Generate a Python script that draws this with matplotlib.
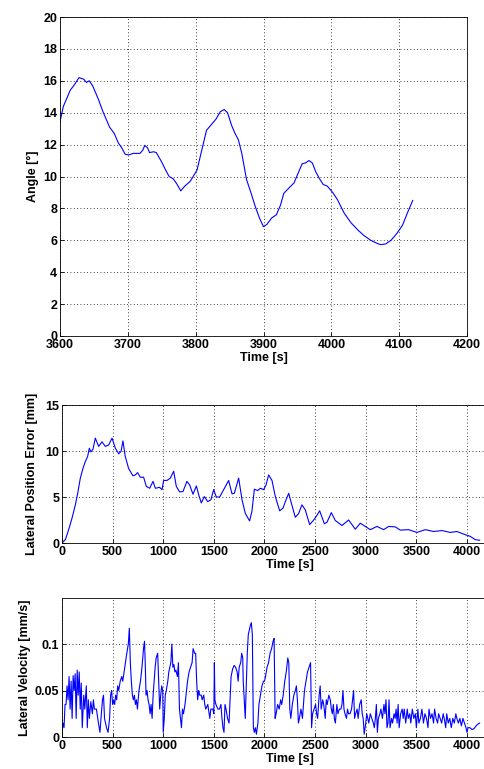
import matplotlib
matplotlib.use("Agg")
import matplotlib.pyplot as plt

plt.rcParams['font.family'] = ['Liberation Sans', 'DejaVu Sans']
plt.rcParams['font.size'] = 9
plt.rcParams['font.weight'] = 'bold'

# ---- Top: angle ----
angle_t = [3600, 3605, 3615, 3622, 3628, 3635, 3639, 3643, 3648, 3657, 3663, 3673, 3680, 3686,
           3691, 3696, 3701, 3708, 3718, 3722, 3725, 3729, 3732, 3738, 3742, 3750, 3757, 3761,
           3767, 3772, 3778, 3784, 3792, 3802, 3809, 3816, 3824, 3830, 3836, 3842, 3847, 3853,
           3858, 3863, 3868, 3875, 3881, 3888, 3894, 3900, 3905, 3912, 3919, 3925, 3930, 3938,
           3945, 3951, 3957, 3962, 3967, 3972, 3977, 3982, 3988, 3994, 4002, 4009, 4019, 4029,
           4039, 4048, 4058, 4068, 4073, 4080, 4088, 4097, 4105, 4112, 4120]
angle_v = [13.44, 14.4, 15.4, 15.8, 16.2, 16.1, 15.9, 16.0, 15.7, 14.8, 14.1, 13.1, 12.7, 12.1,
           11.8, 11.4, 11.35, 11.45, 11.45, 11.65, 11.95, 11.8, 11.5, 11.55, 11.5, 10.9, 10.3, 10.0,
           9.85, 9.55, 9.1, 9.4, 9.7, 10.4, 11.65, 12.9, 13.3, 13.6, 14.05, 14.2, 14.0, 13.2,
           12.7, 12.3, 11.45, 9.8, 9.05, 8.1, 7.4, 6.85, 7.0, 7.4, 7.6, 8.2, 8.95, 9.3,
           9.6, 10.2, 10.8, 10.85, 11.0, 10.85, 10.3, 9.9, 9.5, 9.4, 9.0, 8.55, 7.7, 7.1,
           6.65, 6.3, 6.0, 5.8, 5.73, 5.77, 6.0, 6.45, 6.95, 7.7, 8.5]

# ---- Middle: lateral position error ----
err_t = [0, 33, 66, 99, 132, 155, 181, 207, 230, 253, 270, 286, 306, 329, 362, 395, 428, 461,
         494, 527, 560, 583, 602, 625, 658, 701, 724, 747, 773, 806, 833, 866, 899, 922, 964,
         988, 1004, 1037, 1070, 1103, 1129, 1162, 1195, 1234, 1261, 1294, 1327, 1350, 1376,
         1406, 1439, 1471, 1498, 1524, 1557, 1597, 1646, 1679, 1702, 1745, 1778, 1811, 1853,
         1876, 1900, 1932, 1959, 1992, 2015, 2041, 2074, 2107, 2150, 2183, 2206, 2239, 2265,
         2304, 2337, 2370, 2403, 2446, 2486, 2512, 2545, 2591, 2617, 2660, 2699, 2765, 2831,
         2897, 2946, 2996, 3045, 3111, 3177, 3226, 3292, 3341, 3423, 3506, 3588, 3671, 3753,
         3835, 3901, 3983, 4033, 4082, 4125]
err_v = [0, 0.36, 1.45, 2.7, 4.15, 5.4, 7.05, 8.1, 8.85, 9.4, 10.3, 9.9, 10.2, 11.4, 10.5, 11.0,
         10.5, 10.65, 11.4, 10.3, 9.7, 9.95, 11.1, 9.4, 8.1, 7.3, 7.4, 7.65, 7.15, 7.15, 6.15,
         5.95, 6.7, 5.95, 6.05, 5.8, 6.8, 6.8, 7.05, 7.8, 6.15, 5.55, 5.6, 6.7, 6.3, 5.3, 6.2,
         5.25, 4.35, 5.05, 4.5, 4.7, 5.8, 5.0, 5.0, 5.8, 6.8, 5.35, 5.4, 7.05, 4.7, 3.2, 2.4,
         3.45, 5.85, 5.7, 5.95, 5.8, 6.3, 7.4, 6.8, 5.05, 3.5, 3.8, 4.5, 5.4, 4.35, 2.8, 3.2,
         4.15, 3.6, 2.0, 2.5, 2.9, 3.5, 2.1, 2.25, 3.3, 2.45, 1.9, 2.5, 1.5, 2.15, 1.8, 1.45,
         1.8, 1.45, 1.8, 1.75, 1.4, 1.45, 1.15, 1.45, 1.25, 1.35, 1.15, 1.25, 0.9, 0.72, 0.36, 0.3]

# ---- Bottom: lateral velocity ----
vel_t = [0, 10, 20, 30, 40, 50, 60, 70, 80, 90, 100, 110, 120, 130, 140, 150, 160, 170, 180, 190,
         200, 215, 225, 240, 250, 260, 270, 285, 300, 310, 320, 340, 360, 375, 385, 400, 410, 420,
         440, 455, 470, 480, 490,
         500, 510, 520, 530, 540, 550, 560, 575, 590, 600, 620, 640, 655, 665, 675, 685, 695, 705,
         715, 725, 735, 745, 760, 775, 790, 805, 815, 822, 830, 840, 850, 860, 870, 880, 890, 900,
         910, 920, 930, 945, 955, 965, 975, 985, 995,
         1000, 1010, 1020, 1030, 1045, 1055, 1065, 1075, 1085, 1095, 1105, 1115, 1125, 1140, 1150,
         1160, 1170, 1180, 1190, 1200, 1215, 1225, 1240, 1255, 1270, 1285, 1295, 1310, 1320, 1330,
         1340, 1350, 1360, 1375, 1385, 1400, 1410, 1420, 1440, 1460, 1470, 1490, 1500,
         1505, 1510, 1520, 1540, 1555, 1570, 1580, 1590, 1600, 1610, 1620, 1635, 1650, 1660, 1670,
         1685, 1700, 1715, 1730, 1740, 1750, 1765, 1775, 1785, 1790, 1800, 1810, 1820, 1830, 1840,
         1850, 1860, 1870, 1880, 1890, 1900, 1910, 1920, 1935, 1945, 1960, 1975, 1990,
         2000, 2010, 2025, 2040, 2055, 2070, 2085, 2095, 2105, 2115, 2130, 2145, 2160, 2170, 2185,
         2200, 2215, 2230, 2240, 2250, 2260, 2275, 2290, 2305, 2315, 2325, 2335, 2345, 2360, 2375,
         2385, 2395, 2410, 2425, 2440, 2455, 2465, 2475, 2490,
         2505, 2515, 2525, 2540, 2550, 2560, 2575, 2585, 2600, 2610, 2620, 2635, 2650, 2660, 2670,
         2680, 2690, 2700, 2715, 2725, 2740, 2755, 2765, 2775, 2785, 2795, 2810, 2820, 2830, 2845,
         2860, 2870, 2880, 2890, 2900, 2915, 2925, 2940, 2955, 2965, 2975, 2985,
         3000, 3010, 3020, 3030, 3045, 3060, 3075, 3085, 3095, 3105, 3115, 3125, 3140, 3150, 3165,
         3180, 3190, 3200, 3210, 3220, 3230, 3240, 3255, 3265, 3280, 3290, 3300, 3310, 3320, 3330,
         3345, 3360, 3370, 3380, 3395, 3410, 3420, 3435, 3445, 3460, 3475, 3490,
         3500, 3515, 3525, 3540, 3555, 3570, 3585, 3600, 3615, 3625, 3640, 3655, 3670, 3680, 3695,
         3710, 3720, 3735, 3750, 3765, 3775, 3790, 3800, 3815, 3830, 3845, 3860, 3875, 3890, 3900,
         3915, 3930, 3945, 3960, 3975, 3990, 4000, 4010, 4030, 4050, 4070, 4090, 4110, 4125]
vel_v = [0.005, 0.015, 0.01, 0.035, 0.035, 0.055, 0.04, 0.065, 0.03, 0.06, 0.02, 0.066, 0.05, 0.068,
         0.02, 0.072, 0.045, 0.07, 0.03, 0.058, 0.01, 0.045, 0.03, 0.055, 0.01, 0.04, 0.02, 0.038,
         0.025, 0.04, 0.03, 0.03, 0.015, 0.005, 0.02, 0.04, 0.045, 0.02, 0.01, 0.005, 0.02, 0.045,
         0.05,
         0.035, 0.04, 0.035, 0.045, 0.04, 0.055, 0.05, 0.06, 0.065, 0.06, 0.075, 0.09, 0.1, 0.117,
         0.08, 0.06, 0.045, 0.04, 0.045, 0.035, 0.04, 0.03, 0.05, 0.06, 0.075, 0.095, 0.103, 0.08,
         0.045, 0.05, 0.04, 0.035, 0.025, 0.035, 0.02, 0.045, 0.06, 0.075, 0.085, 0.09, 0.06, 0.03,
         0.045, 0.055, 0.05,
         0.005, 0.02, 0.045, 0.05, 0.06, 0.07, 0.075, 0.08, 0.1, 0.075, 0.078, 0.07, 0.072, 0.065,
         0.08, 0.03, 0.02, 0.01, 0.03, 0.025, 0.035, 0.045, 0.06, 0.07, 0.075, 0.08, 0.095, 0.09,
         0.09, 0.06, 0.04, 0.05, 0.045, 0.045, 0.04, 0.045, 0.035, 0.03, 0.035, 0.02, 0.03, 0.03,
         0.025,
         0.08, 0.04, 0.035, 0.03, 0.03, 0.035, 0.02, 0.01, 0.005, 0.035, 0.03, 0.02, 0.015, 0.04,
         0.065, 0.073, 0.077, 0.075, 0.07, 0.06, 0.075, 0.08, 0.09, 0.085, 0.06, 0.04, 0.02, 0.055,
         0.09, 0.11, 0.115, 0.12, 0.123, 0.11, 0.01, 0.005, 0.01, 0.003, 0.015, 0.035, 0.045, 0.055,
         0.06,
         0.06, 0.065, 0.075, 0.08, 0.09, 0.095, 0.103, 0.106, 0.02, 0.025, 0.035, 0.03, 0.04, 0.035,
         0.045, 0.06, 0.07, 0.085, 0.08, 0.03, 0.02, 0.035, 0.045, 0.05, 0.055, 0.04, 0.015, 0.02,
         0.03, 0.02, 0.035, 0.05, 0.06, 0.07, 0.075, 0.08, 0.01, 0.025, 0.03,
         0.035, 0.025, 0.02, 0.045, 0.055, 0.03, 0.04, 0.035, 0.02, 0.04, 0.035, 0.045, 0.04, 0.03,
         0.025, 0.035, 0.02, 0.015, 0.035, 0.025, 0.03, 0.03, 0.035, 0.05, 0.03, 0.025, 0.02, 0.03,
         0.025, 0.025, 0.03, 0.04, 0.05, 0.02, 0.025, 0.03, 0.02, 0.035, 0.04, 0.025, 0.02, 0.003,
         0.015, 0.025, 0.02, 0.015, 0.025, 0.02, 0.015, 0.01, 0.02, 0.035, 0.005, 0.02, 0.025, 0.03,
         0.02, 0.035, 0.025, 0.04, 0.01, 0.015, 0.04, 0.01, 0.02, 0.015, 0.025, 0.02, 0.03, 0.015,
         0.035, 0.01, 0.025, 0.03, 0.02, 0.03, 0.015, 0.03, 0.02, 0.025, 0.015, 0.03, 0.02, 0.025,
         0.01, 0.03, 0.015, 0.02, 0.03, 0.015, 0.025, 0.02, 0.01, 0.03, 0.02, 0.025, 0.015, 0.03,
         0.02, 0.015, 0.025, 0.02, 0.015, 0.025, 0.02, 0.01, 0.025, 0.015, 0.02, 0.01, 0.02, 0.015,
         0.025, 0.02, 0.015, 0.02, 0.012, 0.02, 0.015, 0.01, 0.005, 0.01, 0.01, 0.008, 0.009, 0.012,
         0.014, 0.015]

W, H = 485, 769
fig = plt.figure(figsize=(W / 100, H / 100), dpi=100)

def style(ax):
    ax.grid(True, linestyle=(0, (1, 3)), color='black', linewidth=0.6)
    ax.tick_params(direction='in', length=3, width=0.6, pad=2, labelsize=9)
    for s in ax.spines.values():
        s.set_linewidth(0.6)
    for lab in ax.get_xticklabels() + ax.get_yticklabels():
        lab.set_fontweight('bold')
    ax.set_xlabel('Time [s]', fontweight='bold', fontsize=9, labelpad=1)

blue = '#0000ff'

ax1 = fig.add_axes([60 / W, 1 - 336 / H, 407 / W, 319 / H])
ax1.plot(angle_t, angle_v, color=blue, linewidth=0.8)
ax1.set_xlim(3600, 4200)
ax1.set_ylim(0, 20)
ax1.set_xticks(range(3600, 4201, 100))
ax1.set_yticks(range(0, 21, 2))
ax1.set_ylabel('Angle [°]', fontweight='bold', fontsize=9, labelpad=3)
style(ax1)

ax2 = fig.add_axes([62 / W, 1 - 543 / H, 455.6 / W, 138 / H])
ax2.plot(err_t, err_v, color=blue, linewidth=0.8)
ax2.set_xlim(0, 4500)
ax2.set_ylim(0, 15)
ax2.set_xticks(range(0, 4001, 500))
ax2.set_yticks([0, 5, 10, 15])
ax2.set_ylabel('Lateral Position Error [mm]', fontweight='bold', fontsize=9, labelpad=5)
style(ax2)

ax3 = fig.add_axes([62 / W, 1 - 737 / H, 455.6 / W, 139 / H])
ax3.plot(vel_t, vel_v, color=blue, linewidth=0.8)
ax3.set_xlim(0, 4500)
ax3.set_ylim(0, 0.1495)
ax3.set_xticks(range(0, 4001, 500))
ax3.set_yticks([0, 0.05, 0.1])
ax3.set_yticklabels(['0', '0.05', '0.1'])
ax3.set_ylabel('Lateral Velocity [mm/s]', fontweight='bold', fontsize=9, labelpad=3)
style(ax3)

fig.savefig('out.png', dpi=100)
